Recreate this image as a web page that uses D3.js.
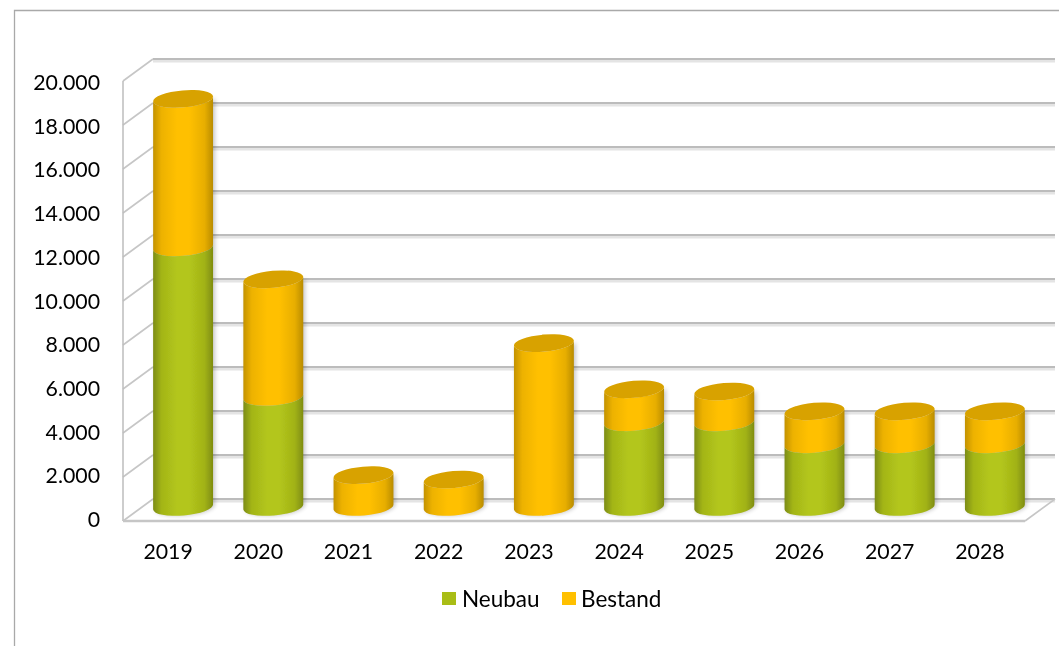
<!DOCTYPE html>
<html><head><meta charset="utf-8">
<script src="https://cdnjs.cloudflare.com/ajax/libs/d3/7.8.5/d3.min.js"></script>
<style>html,body{margin:0;padding:0;background:#fff;overflow:hidden}svg{display:block}text{font-family:Lato,"Open Sans",sans-serif;fill:#050505}</style>
</head><body><svg id="c" width="1059" height="646"></svg>
<script>
const categories=["2019","2020","2021","2022","2023","2024","2025","2026","2027","2028"];
const neubau=[11800,5000,0,0,0,3850,3850,2850,2850,2850];
const bestand=[6750,5350,1450,1250,7450,1500,1400,1500,1500,1500];
const seriesNames=["Neubau","Bestand"];
const ticks=[0,2000,4000,6000,8000,10000,12000,14000,16000,18000,20000];
const tickLabels=["0","2.000","4.000","6.000","8.000","10.000","12.000","14.000","16.000","18.000","20.000"];

const svg=d3.select("#c"),defs=svg.append("defs");
const x=d3.scaleBand().domain(categories).range([123,1025]).paddingInner(1/3).paddingOuter(1/6);
const y=d3.scaleLinear().domain([0,20000]).range([510,70]);
const yCyl=d3.scaleLinear().domain([0,20000]).range([507,67]);
const yLabel=d3.scaleLinear().domain([0,20000]).range([519,82]);
const dx=15,dy=11,ry=8.5,tilt=-5;

function grad(id,e,c,r){const g=defs.append("linearGradient").attr("id",id);
 [[0,e],[.14,d3.interpolateRgb(e,c)(.7)],[.4,c],[.6,c],[.86,d3.interpolateRgb(r,c)(.65)],[1,r]].forEach(s=>g.append("stop").attr("offset",s[0]).attr("stop-color",s[1]));}
grad("gG","#7c8c12","#b3c61b","#7f8d10");
grad("gO","#c39200","#ffc000","#b98c00");
defs.append("filter").attr("id","soft").append("feGaussianBlur").attr("stdDeviation",.6);
defs.append("filter").attr("id","sh").append("feGaussianBlur").attr("stdDeviation",2.2);

svg.append("path").attr("d","M14.5,646V10.5H1059").attr("fill","none").attr("stroke","#a9a9a9").attr("stroke-width",1.3);

const root=svg.append("g").attr("filter","url(#soft)");
const wall=root.append("g").attr("fill","none");
wall.selectAll(".b2").data(ticks).join("line").attr("x1",2*dx+123).attr("x2",1055)
 .attr("y1",d=>y(d)-dy+2).attr("y2",d=>y(d)-dy+2).attr("stroke","#e4e4e4").attr("stroke-width",3);
wall.selectAll(".b").data(ticks).join("line").attr("x1",2*dx+123).attr("x2",1055)
 .attr("y1",d=>y(d)-dy).attr("y2",d=>y(d)-dy).attr("stroke","#bcbcbc").attr("stroke-width",2);
wall.selectAll(".s").data(ticks).join("line").attr("x1",123).attr("x2",123+2*dx)
 .attr("y1",d=>y(d)+dy).attr("y2",d=>y(d)-dy).attr("stroke","#c6c6c6").attr("stroke-width",1.6);
wall.append("line").attr("x1",123).attr("x2",123).attr("y1",y(20000)+dy).attr("y2",y(0)+dy).attr("stroke","#bdbdbd").attr("stroke-width",1.5);
wall.append("line").attr("x1",123).attr("x2",1025).attr("y1",y(0)+dy).attr("y2",y(0)+dy).attr("stroke","#c6c6c6").attr("stroke-width",2.4);
wall.append("line").attr("x1",1025).attr("x2",1055).attr("y1",y(0)+dy).attr("y2",y(0)-dy).attr("stroke","#c6c6c6").attr("stroke-width",1.6);

const rad=tilt*Math.PI/180;
function cyl(cx,v0,v1,hw){
 const ox=hw*Math.cos(rad),oy=hw*Math.sin(rad),a=yCyl(v0),b=yCyl(v1);
 return `M${cx-ox},${a-oy}A${hw},${ry} ${tilt} 0 0 ${cx+ox},${a+oy}L${cx+ox},${b+oy}A${hw},${ry} ${tilt} 0 1 ${cx-ox},${b-oy}Z`;
}
function cap(cx,v,hw){
 const ox=hw*Math.cos(rad),oy=hw*Math.sin(rad),b=yCyl(v);
 return `M${cx-ox},${b-oy}A${hw},${ry} ${tilt} 1 1 ${cx+ox},${b+oy}A${hw},${ry} ${tilt} 1 1 ${cx-ox},${b-oy}Z`;
}
const data=categories.map((c,i)=>({c,n:neubau[i],b:bestand[i],cx:x(c)+x.bandwidth()/2+dx,hw:x.bandwidth()/2}));
const bars=root.selectAll(".bar").data(data).join("g");
bars.append("path").attr("d",d=>cyl(d.cx+2,0,d.n+d.b,d.hw)).attr("fill","#000").attr("opacity",.22).attr("filter","url(#sh)");
bars.filter(d=>d.b>0).append("path").attr("d",d=>cyl(d.cx,d.n,d.n+d.b,d.hw)).attr("fill","url(#gO)");
bars.filter(d=>d.n>0).append("path").attr("d",d=>cyl(d.cx,0,d.n,d.hw)).attr("fill","url(#gG)");
bars.append("path").attr("d",d=>cap(d.cx,d.n+d.b,d.hw)).attr("fill","#d8a200");

const tf=root.append("g").attr("font-size",21.3);
tf.selectAll(".yl").data(ticks).join("text").attr("x",100).attr("y",d=>yLabel(d))
 .attr("text-anchor","end").attr("dominant-baseline","central").text((d,i)=>tickLabels[i]);
tf.selectAll(".xl").data(categories).join("text").attr("x",d=>x(d)+x.bandwidth()/2).attr("y",551)
 .attr("text-anchor","middle").attr("dominant-baseline","central").text(d=>d);

const legendColors=d3.scaleOrdinal().domain(seriesNames).range(["#a9bd16","#ffc000"]);
const legendX=d3.scaleOrdinal().domain(seriesNames).range([442,562]);
const lg=root.selectAll(".lg").data(seriesNames).join("g").attr("transform",d=>`translate(${legendX(d)},592)`);
lg.append("rect").attr("width",14).attr("height",13).attr("fill",d=>legendColors(d));
lg.append("text").attr("x",d=>d==="Neubau"?20:19).attr("y",6.5).attr("font-size",22.5).attr("dominant-baseline","central").text(d=>d);
</script></body></html>
